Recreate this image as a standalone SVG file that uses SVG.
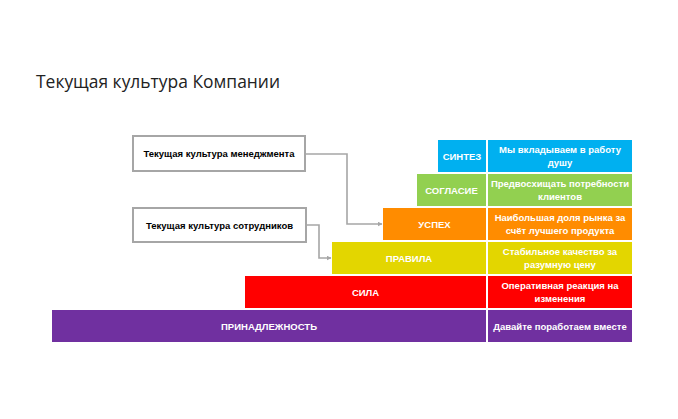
<svg xmlns="http://www.w3.org/2000/svg" width="678" height="419" viewBox="0 0 678 419">
<style>
.title{font-family:"Open Sans","Liberation Sans",sans-serif;font-size:18px;fill:#222}
.box{fill:#fff;stroke:#a6a6a6;stroke-width:2}
.bt{font-family:"Liberation Sans",Arial,sans-serif;font-size:9.5px;font-weight:bold;fill:#000;text-anchor:middle}
.lt{font-family:"Liberation Sans",Arial,sans-serif;font-size:9.5px;font-weight:bold;fill:#fff;text-anchor:middle}
.conn{fill:none;stroke:#a6a6a6;stroke-width:1.6}
</style>
<defs>
<marker id="ah" viewBox="0 0 10 10" refX="9" refY="5" markerWidth="5" markerHeight="5" orient="auto" markerUnits="userSpaceOnUse">
<path d="M0,0 L10,5 L0,10 z" fill="#a6a6a6"/>
</marker>
</defs>
<rect width="678" height="419" fill="#fff"/>
<text class="title" x="36" y="88" textLength="244" lengthAdjust="spacingAndGlyphs">Текущая культура Компании</text>

<g id="layer-sintez">
<rect x="438" y="140" width="48" height="32" fill="#00b0f0"/>
<rect x="488" y="140" width="144" height="32" fill="#00b0f0"/>
<text class="lt" x="462" y="159.5">СИНТЕЗ</text>
<text class="lt" x="560" y="153">Мы вкладываем в работу</text>
<text class="lt" x="560" y="166">душу</text>
</g>
<g id="layer-soglasie">
<rect x="417" y="174" width="69" height="32" fill="#92d050"/>
<rect x="488" y="174" width="144" height="32" fill="#92d050"/>
<text class="lt" x="451.5" y="193.5">СОГЛАСИЕ</text>
<text class="lt" x="560" y="187">Предвосхищать потребности</text>
<text class="lt" x="560" y="200">клиентов</text>
</g>
<g id="layer-uspeh">
<rect x="383" y="208" width="103" height="32" fill="#ff8c00"/>
<rect x="488" y="208" width="144" height="32" fill="#ff8c00"/>
<text class="lt" x="434.5" y="227.5">УСПЕХ</text>
<text class="lt" x="560" y="221">Наибольшая доля рынка за</text>
<text class="lt" x="560" y="234">счёт лучшего продукта</text>
</g>
<g id="layer-pravila">
<rect x="332" y="242" width="154" height="32" fill="#e3d600"/>
<rect x="488" y="242" width="144" height="32" fill="#e3d600"/>
<text class="lt" x="409" y="261.5">ПРАВИЛА</text>
<text class="lt" x="560" y="255">Стабильное качество за</text>
<text class="lt" x="560" y="268">разумную цену</text>
</g>
<g id="layer-sila">
<rect x="245" y="276" width="241" height="32" fill="#ff0000"/>
<rect x="488" y="276" width="144" height="32" fill="#ff0000"/>
<text class="lt" x="365.5" y="295.5">СИЛА</text>
<text class="lt" x="560" y="289">Оперативная реакция на</text>
<text class="lt" x="560" y="302">изменения</text>
</g>
<g id="layer-prinadlezhnost">
<rect x="52" y="310" width="434" height="32" fill="#7030a0"/>
<rect x="488" y="310" width="144" height="32" fill="#7030a0"/>
<text class="lt" x="269" y="329.5">ПРИНАДЛЕЖНОСТЬ</text>
<text class="lt" x="560" y="329.5">Давайте поработаем вместе</text>
</g>

<g id="box-management">
<rect class="box" x="133" y="136" width="172" height="35"/>
<text class="bt" x="219" y="157">Текущая культура менеджмента</text>
</g>
<g id="box-employees">
<rect class="box" x="133" y="208" width="173" height="34"/>
<text class="bt" x="219.5" y="228.5">Текущая культура сотрудников</text>
</g>

<g id="connectors">
<path class="conn" d="M305,154 H347 V224 H382" marker-end="url(#ah)"/>
<path class="conn" d="M306,225 H319 V258 H331" marker-end="url(#ah)"/>
</g>
</svg>
